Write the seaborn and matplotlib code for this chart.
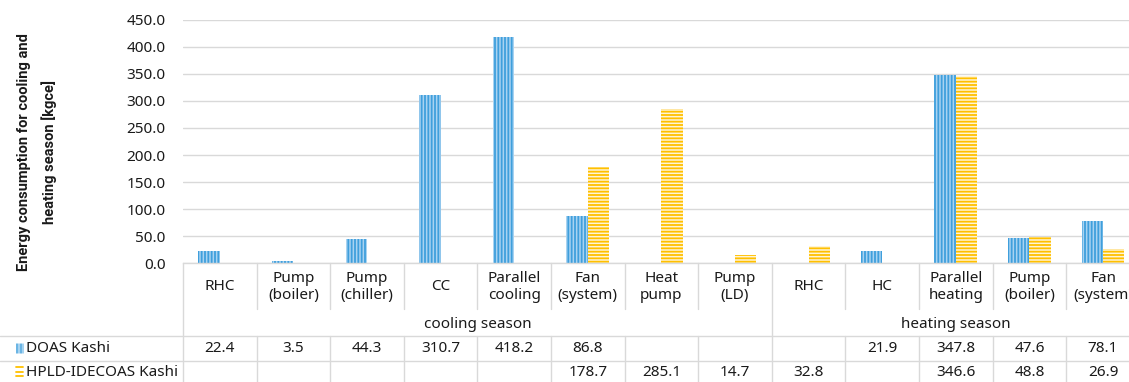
import numpy as np
import pandas as pd
import matplotlib
matplotlib.use("Agg")
import matplotlib.pyplot as plt
from matplotlib.lines import Line2D
from matplotlib.transforms import blended_transform_factory
import seaborn as sns

# ---- data -------------------------------------------------------------
seasons = ["cooling season"] * 8 + ["heating season"] * 5
components = ["RHC", "Pump\n(boiler)", "Pump\n(chiller)", "CC", "Parallel\ncooling",
              "Fan\n(system)", "Heat\npump", "Pump\n(LD)",
              "RHC", "HC", "Parallel\nheating", "Pump\n(boiler)", "Fan\n(system)"]
series_names = ["DOAS Kashi", "HPLD-IDECOAS Kashi"]
doas = [22.4, 3.5, 44.3, 310.7, 418.2, 86.8, np.nan, np.nan,
        np.nan, 21.9, 347.8, 47.6, 78.1]
hpld = [np.nan, np.nan, np.nan, np.nan, np.nan, 178.7, 285.1, 14.7,
        32.8, np.nan, 346.6, 48.8, 26.9]
yticks = np.arange(0, 451, 50)

keys = [f"{s} / {c}" for s, c in zip(seasons, components)]
df = pd.DataFrame({
    "key": keys * 2,
    "series": [series_names[0]] * len(keys) + [series_names[1]] * len(keys),
    "value": doas + hpld,
}).dropna()

# ---- style ------------------------------------------------------------
sns.set_style("white")
plt.rcParams["font.family"] = ["Noto Sans", "DejaVu Sans"]
plt.rcParams["hatch.linewidth"] = 1.3
TXT = "#1a1a1a"
GRID = "#d9d9d9"
blue_face, blue_hatch = "#a9d3f1", "#3f9fdc"
orng_face, orng_hatch = "#fff4d6", "#ffc000"

W, H = 1129, 382
fig = plt.figure(figsize=(W / 100, H / 100), dpi=100)
ax_left, ax_bottom, ax_top = 183, 263.3, 19.7
ax_width = 13 * 73.6
ax = fig.add_axes([ax_left / W, 1 - ax_bottom / H, ax_width / W, (ax_bottom - ax_top) / H])

sns.barplot(data=df, x="key", y="value", hue="series", order=keys,
            hue_order=series_names, palette=[blue_face, orng_face],
            width=0.58, saturation=1, errorbar=None, legend=False, ax=ax)

for cont, hatch, hc in zip(ax.containers, ["|||||", "-----"], [blue_hatch, orng_hatch]):
    for bar in cont:
        bar.set_hatch(hatch)
        bar.set_edgecolor(hc)
        bar.set_linewidth(0)

ax.set_xlim(-0.5, 12.5)
ax.set_ylim(0, 450)
ax.set_yticks(yticks)
ax.set_yticklabels([f"{v:.1f}" for v in yticks], fontsize=11, color=TXT)
ax.set_xticks([])
ax.set_xlabel("")
ax.set_ylabel("")
ax.tick_params(axis="y", length=0, pad=12.5)
ax.yaxis.grid(True, color=GRID, lw=1)
ax.set_axisbelow(True)
for side in ["top", "right", "left"]:
    ax.spines[side].set_visible(False)
ax.spines["bottom"].set_color(GRID)
ax.spines["bottom"].set_linewidth(1)

fig.text(37 / W, 1 - 152 / H,
         "Energy consumption for cooling and\nheating season [kgce]",
         rotation=90, ha="center", va="center", multialignment="center",
         fontsize=10.5, fontweight="bold", color=TXT, linespacing=1.75,
         family=["Roboto", "Liberation Sans", "DejaVu Sans"])

# ---- data table under the axis ---------------------------------------
tr = blended_transform_factory(ax.transData, fig.transFigure)


def fy(px):
    return 1 - px / H


def vline(x, y0, y1):
    fig.add_artist(Line2D([x, x], [fy(y0), fy(y1)], transform=tr,
                          color=GRID, lw=1, clip_on=False))


def hline(y):
    fig.add_artist(Line2D([0, 1], [fy(y), fy(y)], transform=fig.transFigure,
                          color=GRID, lw=1, clip_on=False))


n = len(keys)
for b in range(n + 1):
    x = b - 0.5
    if b == 0 or b == n or seasons[b] != seasons[b - 1]:
        vline(x, ax_bottom, H)
    else:
        vline(x, ax_bottom, 309)
        vline(x, 336, H)
hline(336)
hline(361)

for i, comp in enumerate(components):
    ax.text(i, fy(287), comp, transform=tr, ha="center", va="center",
            fontsize=11, color=TXT, linespacing=1.25, clip_on=False)

season_names = list(dict.fromkeys(seasons))
for s in season_names:
    idx = [i for i, v in enumerate(seasons) if v == s]
    ax.text((idx[0] + idx[-1]) / 2, fy(324), s, transform=tr, ha="center",
            va="center", fontsize=11, color=TXT, clip_on=False)

for vals, row_y in zip([doas, hpld], [349, 372]):
    for i, v in enumerate(vals):
        if not np.isnan(v):
            ax.text(i, fy(row_y), f"{v:.1f}", transform=tr, ha="center",
                    va="center", fontsize=11, color=TXT, clip_on=False)

for name, row_y in zip(series_names, [349, 372]):
    fig.text(26 / W, fy(row_y), name, ha="left", va="center",
             fontsize=11, color=TXT)

# legend keys inside the table
for k, c in enumerate([blue_hatch, "#8cc6ee", blue_hatch, "#8cc6ee"]):
    x = (16.5 + 2 * k) / W
    fig.add_artist(Line2D([x, x], [fy(353), fy(344)], transform=fig.transFigure,
                          color=c, lw=1.1))
for yy in [367, 371.5, 376]:
    fig.add_artist(Line2D([16 / W, 23 / W], [fy(yy), fy(yy)],
                          transform=fig.transFigure, color=orng_hatch, lw=1.3))

fig.savefig("out.png", dpi=100)
